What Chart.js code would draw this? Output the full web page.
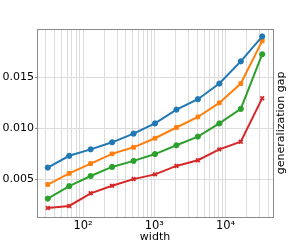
<!DOCTYPE html>
<html><head><meta charset="utf-8">
<script src="https://cdn.jsdelivr.net/npm/chart.js@4"></script>
<style>html,body{margin:0;padding:0;background:#fff}#w{width:303px;height:243px}</style>
</head><body><div id="w"><canvas id="c"></canvas></div>
<script>
const widths = [32, 64, 128, 256, 512, 1024, 2048, 4096, 8192, 16384, 32768];
const seriesBlue   = [0.00618, 0.00733, 0.00796, 0.00865, 0.00950, 0.01050, 0.01185, 0.01287, 0.01440, 0.01657, 0.01901];
const seriesOrange = [0.00452, 0.00561, 0.00657, 0.00752, 0.00816, 0.00905, 0.01010, 0.01113, 0.01251, 0.01440, 0.01858];
const seriesGreen  = [0.00314, 0.00436, 0.00535, 0.00624, 0.00683, 0.00750, 0.00836, 0.00921, 0.01050, 0.01192, 0.01727];
const seriesRed    = [0.00222, 0.00242, 0.00366, 0.00440, 0.00505, 0.00551, 0.00634, 0.00690, 0.00796, 0.00871, 0.01297];
const yTicks = [0.005, 0.010, 0.015];
const xMajorTicks = [100, 1000, 10000];
const xLabel = 'width';
const yLabel = 'generalization gap';

const sup = {'0':'⁰','1':'¹','2':'²','3':'³','4':'⁴','5':'⁵','6':'⁶','7':'⁷','8':'⁸','9':'⁹'};
function mk(vals, color, style) {
  return {
    data: widths.map((w, i) => ({x: w, y: vals[i]})),
    borderColor: color, backgroundColor: color,
    borderWidth: 2, pointStyle: style, pointRadius: 2.6,
    pointBorderWidth: style === 'crossRot' ? 1.8 : 1,
    pointBorderColor: color, pointBackgroundColor: color,
    tension: 0, fill: false
  };
}
const FONT = 'DejaVu Sans';
const framePlugin = {
  id: 'frame',
  afterDraw(chart) {
    const {ctx, chartArea: a} = chart;
    ctx.save();
    ctx.strokeStyle = '#8a8a8a';
    ctx.lineWidth = 1;
    ctx.strokeRect(Math.round(a.left) + 0.5, Math.round(a.top) + 0.5,
                   Math.round(a.right - a.left), Math.round(a.bottom - a.top));
    ctx.fillStyle = '#000';
    ctx.font = '11px "' + FONT + '"';
    ctx.translate(281, (a.top + a.bottom) / 2);
    ctx.rotate(-Math.PI / 2);
    ctx.textAlign = 'center';
    ctx.textBaseline = 'middle';
    ctx.fillText(yLabel, 0, 0);
    ctx.restore();
  }
};
new Chart(document.getElementById('c'), {
  type: 'line',
  data: { datasets: [
    mk(seriesBlue, '#1f77b4', 'circle'),
    mk(seriesOrange, '#ff7f0e', 'rect'),
    mk(seriesGreen, '#2ca02c', 'circle'),
    mk(seriesRed, '#d62728', 'crossRot')
  ]},
  options: {
    responsive: true, maintainAspectRatio: false, animation: false,
    layout: { padding: { top: 29, right: 30, left: 0, bottom: 0 } },
    plugins: { legend: { display: false }, tooltip: { enabled: false } },
    scales: {
      x: {
        type: 'logarithmic', min: 22.6, max: 46400,
        afterBuildTicks(s) {
          const t = [];
          for (let e = 1; e <= 4; e++) for (let m = 1; m <= 9; m++) {
            const v = m * Math.pow(10, e);
            if (v >= s.min && v <= s.max) t.push({value: v});
          }
          s.ticks = t;
        },
        afterFit(s) { s.height = 26.3; },
        ticks: {
          autoSkip: false, maxRotation: 0, padding: 2,
          color: '#000', font: { family: FONT, size: 11.5 },
          callback(v) {
            if (xMajorTicks.includes(v)) {
              const e = String(Math.round(Math.log10(v)));
              return '10' + e.split('').map(c => sup[c]).join('');
            }
            return '';
          }
        },
        grid: { color: '#dcdcdc', lineWidth: 1, drawTicks: false },
        border: { display: false },
        title: { display: true, text: xLabel, color: '#000', font: { family: FONT, size: 11 }, padding: { top: 0, bottom: -1 } }
      },
      y: {
        min: 0.00137, max: 0.01974,
        afterBuildTicks(s) { s.ticks = yTicks.map(v => ({value: v})); },
        afterFit(s) { s.width = 37; },
        ticks: { color: '#000', font: { family: FONT, size: 11 }, padding: 1,
                 callback: v => v.toFixed(3) },
        grid: { color: '#dcdcdc', lineWidth: 1, tickLength: 2, tickColor: '#8a8a8a' },
        border: { display: false }
      }
    }
  },
  plugins: [framePlugin]
});
</script></body></html>
